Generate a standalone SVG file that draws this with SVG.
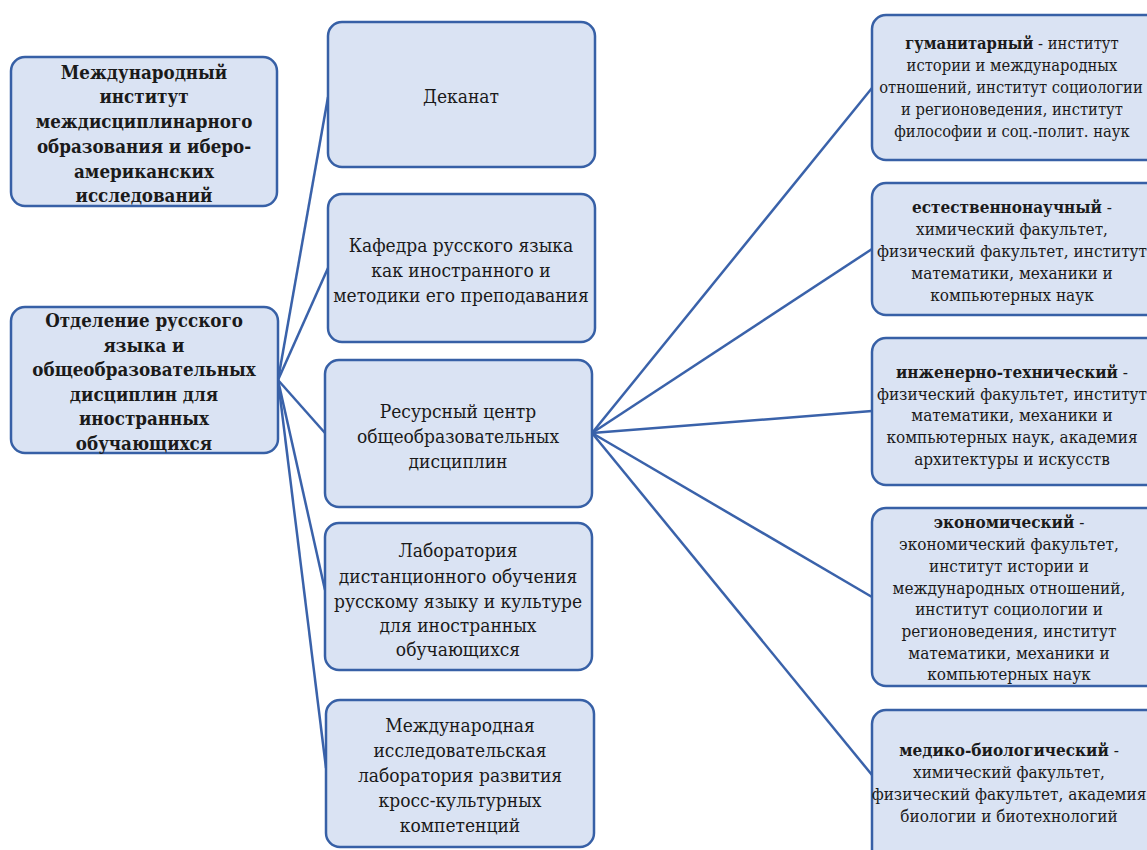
<svg xmlns="http://www.w3.org/2000/svg" width="1147" height="850" viewBox="0 0 1147 850">
<style>
.box{fill:#dae3f3;stroke:#3760a6;stroke-width:2.5}
text{font-family:'DejaVu Serif','Liberation Serif',serif;font-stretch:condensed;fill:#1a1a1a;text-anchor:middle;dominant-baseline:central}
.lb{font-size:18.6px;font-weight:bold}
.m{font-size:19px}
.r{font-size:17px}
.rs{font-size:16.4px}
.b{font-weight:bold}
.c{stroke:#3a62aa;stroke-width:2.5;fill:none}
</style>
<rect width="1147" height="850" fill="#ffffff"/>
<g id="connectors">
<line class="c" x1="278" y1="380" x2="328" y2="97"/>
<line class="c" x1="278" y1="380" x2="328" y2="268"/>
<line class="c" x1="278" y1="380" x2="325" y2="433"/>
<line class="c" x1="278" y1="380" x2="325" y2="590"/>
<line class="c" x1="278" y1="380" x2="326" y2="768"/>
<line class="c" x1="592" y1="433" x2="872" y2="88"/>
<line class="c" x1="592" y1="433" x2="872" y2="249"/>
<line class="c" x1="592" y1="433" x2="872" y2="411"/>
<line class="c" x1="592" y1="433" x2="872" y2="597"/>
<line class="c" x1="592" y1="433" x2="872" y2="775"/>
</g>
<g id="n-institute">
<rect class="box" x="11" y="57" width="266" height="149" rx="14"/>
<text class="lb"><tspan x="144" y="72">Международный</tspan><tspan x="144" y="96">институт</tspan><tspan x="144" y="121">междисциплинарного</tspan><tspan x="144" y="146">образования и иберо-</tspan><tspan x="144" y="171">американских</tspan><tspan x="144" y="195">исследований</tspan></text>
</g>
<g id="n-department">
<rect class="box" x="11" y="307" width="267" height="146" rx="14"/>
<text class="lb"><tspan x="144" y="320">Отделение русского</tspan><tspan x="144" y="345">языка и</tspan><tspan x="144" y="369">общеобразовательных</tspan><tspan x="144" y="394">дисциплин для</tspan><tspan x="144" y="418">иностранных</tspan><tspan x="144" y="443">обучающихся</tspan></text>
</g>
<g id="n-dekanat">
<rect class="box" x="328" y="22" width="267" height="145" rx="14"/>
<text class="m" x="461" y="96">Деканат</text>
</g>
<g id="n-kafedra">
<rect class="box" x="328" y="194" width="267" height="148" rx="14"/>
<text class="m"><tspan x="461" y="245">Кафедра русского языка</tspan><tspan x="461" y="270">как иностранного  и</tspan><tspan x="461" y="295">методики его преподавания</tspan></text>
</g>
<g id="n-resource">
<rect class="box" x="325" y="360" width="267" height="147" rx="14"/>
<text class="m"><tspan x="458" y="411">Ресурсный центр</tspan><tspan x="458" y="436">общеобразовательных</tspan><tspan x="458" y="461">дисциплин</tspan></text>
</g>
<g id="n-lab">
<rect class="box" x="325" y="523" width="267" height="147" rx="14"/>
<text class="m"><tspan x="458" y="550">Лаборатория</tspan><tspan x="458" y="576">дистанционного  обучения</tspan><tspan x="458" y="601">русскому языку и культуре</tspan><tspan x="458" y="625">для иностранных</tspan><tspan x="458" y="649">обучающихся</tspan></text>
</g>
<g id="n-intlab">
<rect class="box" x="326" y="700" width="268" height="147" rx="14"/>
<text class="m"><tspan x="460" y="725">Международная</tspan><tspan x="460" y="750">исследовательская</tspan><tspan x="460" y="775">лаборатория развития</tspan><tspan x="460" y="800">кросс-культурных</tspan><tspan x="460" y="825">компетенций</tspan></text>
</g>
<g id="n-hum">
<rect class="box" x="872" y="15" width="290" height="145" rx="14"/>
<text class="rs"><tspan x="1012" y="43"><tspan class="b">гуманитарный</tspan> - институт</tspan><tspan x="1012" y="65">истории и международных</tspan><tspan x="1011" y="87">отношений,  институт социологии</tspan><tspan x="1012" y="109">и регионоведения,  институт</tspan><tspan x="1012" y="131">философии  и соц.-полит.  наук</tspan></text>
</g>
<g id="n-nat">
<rect class="box" x="872" y="183" width="290" height="132" rx="14"/>
<text class="r"><tspan x="1012" y="207"><tspan class="b">естественнонаучный</tspan> -</tspan><tspan x="1012" y="229">химический факультет,</tspan><tspan x="1012" y="251">физический факультет, институт</tspan><tspan x="1012" y="273">математики, механики и</tspan><tspan x="1012" y="295">компьютерных наук</tspan></text>
</g>
<g id="n-eng">
<rect class="box" x="872" y="338" width="290" height="147" rx="14"/>
<text class="r"><tspan x="1012" y="372"><tspan class="b">инженерно-технический</tspan> -</tspan><tspan x="1012" y="394">физический факультет, институт</tspan><tspan x="1012" y="415">математики, механики и</tspan><tspan x="1012" y="437">компьютерных наук,  академия</tspan><tspan x="1012" y="459">архитектуры и искусств</tspan></text>
</g>
<g id="n-econ">
<rect class="box" x="872" y="508" width="290" height="178" rx="14"/>
<text class="r"><tspan x="1009" y="522"><tspan class="b">экономический</tspan> -</tspan><tspan x="1009" y="544">экономический факультет,</tspan><tspan x="1009" y="566">институт истории и</tspan><tspan x="1009" y="588">международных отношений,</tspan><tspan x="1009" y="609">институт социологии  и</tspan><tspan x="1009" y="631">регионоведения,   институт</tspan><tspan x="1009" y="653">математики, механики и</tspan><tspan x="1009" y="674">компьютерных наук</tspan></text>
</g>
<g id="n-med">
<rect class="box" x="872" y="710" width="290" height="160" rx="14"/>
<text class="r"><tspan x="1009" y="750"><tspan class="b">медико-биологический</tspan> -</tspan><tspan x="1009" y="772">химический факультет,</tspan><tspan x="1009" y="794">физический факультет, академия</tspan><tspan x="1009" y="816">биологии и биотехнологий</tspan></text>
</g>
</svg>
